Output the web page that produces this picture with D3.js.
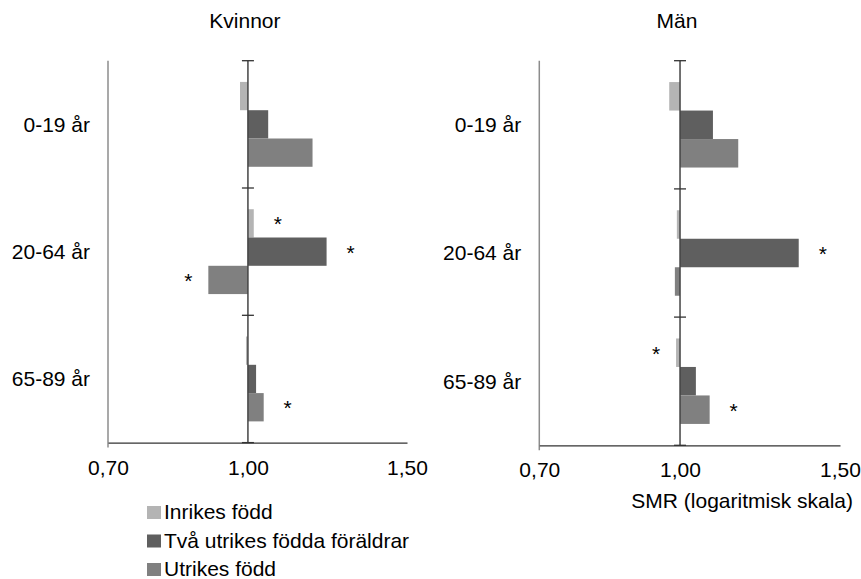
<html>
<head>
<meta charset="utf-8">
<style>
    body { margin: 0; background: #fff; }
    text { font-family: "Liberation Sans", Arial, sans-serif; fill: #000; }
</style>
</head>
<body>
<svg id="chart" width="861" height="579"></svg>

<script src="https://cdnjs.cloudflare.com/ajax/libs/d3/7.8.5/d3.min.js"></script>
<script>
// age groups and series
const categories = ["0-19 år", "20-64 år", "65-89 år"]
const seriesNames = ["Inrikes född", "Två utrikes födda föräldrar", "Utrikes född"]
const seriesColors = ["#b4b4b4", "#5f5f5f", "#808080"]

// SMR values, one value per age group
const kvinnorInrikes = [0.980, 1.015, 0.995]
const kvinnorTvaUtrikes = [1.053, 1.222, 1.021]
const kvinnorUtrikes = [1.179, 0.904, 1.041]
const manInrikes = [0.973, 0.992, 0.990]
const manTvaUtrikes = [1.087, 1.351, 1.041]
const manUtrikes = [1.159, 0.987, 1.078]

// significant (marked with *)
const kvinnorSig = [[false, true, false], [false, true, false], [false, true, true]]
const manSig = [[false, false, true], [false, true, false], [false, false, true]]

const tickValues = [0.70, 1.00, 1.50]
const tickLabels = ["0,70", "1,00", "1,50"]
const axisTitle = "SMR (logaritmisk skala)"

const svg = d3.select("#chart")
const fontSize = 21

function drawPanel(title, series, sig, xRange, yRange) {
    let g = svg.append("g")

    let x = d3.scaleLog().domain([0.70, 1.50]).range(xRange)
    let y = d3.scaleBand().domain(categories).range(yRange)
        .paddingInner(1 / 3).paddingOuter(1 / 6)
    let ySub = d3.scaleBand().domain(d3.range(series.length)).range([0, y.bandwidth()])
    let step = y.step()
    let bottom = yRange[1]

    // grey left border at 0,70
    g.append("line")
        .attr("x1", x(0.70)).attr("x2", x(0.70))
        .attr("y1", yRange[0]).attr("y2", bottom + 5)
        .attr("stroke", "#8c8c8c").attr("stroke-width", 1.5)

    // bars
    series.forEach((vals, s) => {
        g.selectAll(null)
            .data(vals)
            .join("rect")
            .attr("x", d => Math.min(x(d), x(1)))
            .attr("width", d => Math.abs(x(d) - x(1)))
            .attr("y", (d, i) => y(categories[i]) + ySub(s))
            .attr("height", ySub.bandwidth())
            .attr("fill", seriesColors[s])

        g.selectAll(null)
            .data(vals.map((v, i) => ({ v: v, i: i, sig: sig[s][i] })).filter(d => d.sig))
            .join("text")
            .attr("x", d => d.v >= 1 ? x(d.v) + 24 : x(d.v) - 20)
            .attr("y", d => y(categories[d.i]) + ySub(s) + ySub.bandwidth() / 2)
            .attr("dy", "0.38em")
            .attr("text-anchor", "middle")
            .style("font-size", fontSize + "px")
            .text("*")
    })

    // bottom value axis
    let xAxis = g.append("g")
        .attr("transform", "translate(0," + bottom + ")")
        .call(d3.axisBottom(x).tickValues(tickValues)
            .tickFormat((d, i) => tickLabels[i]).tickSize(0).tickPadding(17))
    xAxis.select(".domain").attr("stroke", "#333").attr("stroke-width", 1.3)
    xAxis.selectAll("text")
        .style("font-size", fontSize + "px")
        .style("font-family", "'Liberation Sans', Arial, sans-serif")

    // category axis at 1,00 with ticks at group borders
    g.append("line")
        .attr("x1", x(1)).attr("x2", x(1))
        .attr("y1", yRange[0]).attr("y2", bottom)
        .attr("stroke", "#444").attr("stroke-width", 1.5)
    let borders = categories.map(c => y(c) - step * y.paddingOuter()).concat([bottom])
    g.selectAll(null)
        .data(borders)
        .join("line")
        .attr("x1", x(1) - 6).attr("x2", x(1) + 6)
        .attr("y1", d => d).attr("y2", d => d)
        .attr("stroke", "#333").attr("stroke-width", 1.3)

    // category labels
    g.selectAll(null)
        .data(categories)
        .join("text")
        .attr("x", x(0.70) - 18)
        .attr("y", d => y(d) + y.bandwidth() / 2)
        .attr("dy", "0.35em")
        .attr("text-anchor", "end")
        .style("font-size", fontSize + "px")
        .text(d => d)

    // panel title
    g.append("text")
        .attr("x", x(1) - 3)
        .attr("y", 28)
        .attr("text-anchor", "middle")
        .style("font-size", fontSize + "px")
        .text(title)

    return x
}

drawPanel("Kvinnor",
    [kvinnorInrikes, kvinnorTvaUtrikes, kvinnorUtrikes], kvinnorSig,
    [108, 407], [60.7, 442.6])
drawPanel("Män",
    [manInrikes, manTvaUtrikes, manUtrikes], manSig,
    [539.3, 840], [60.7, 445.3])

svg.append("text")
    .attr("x", 853)
    .attr("y", 508)
    .attr("text-anchor", "end")
    .style("font-size", fontSize + "px")
    .text(axisTitle)

// legend
let legend = svg.append("g").attr("transform", "translate(147,519)")
seriesNames.forEach((name, i) => {
    legend.append("rect")
        .attr("x", 0).attr("y", i * 28.5 - 13)
        .attr("width", 14).attr("height", 13)
        .attr("fill", seriesColors[i])
    legend.append("text")
        .attr("x", 17).attr("y", i * 28.5)
        .style("font-size", fontSize + "px")
        .text(name)
})
</script>
</body>
</html>
